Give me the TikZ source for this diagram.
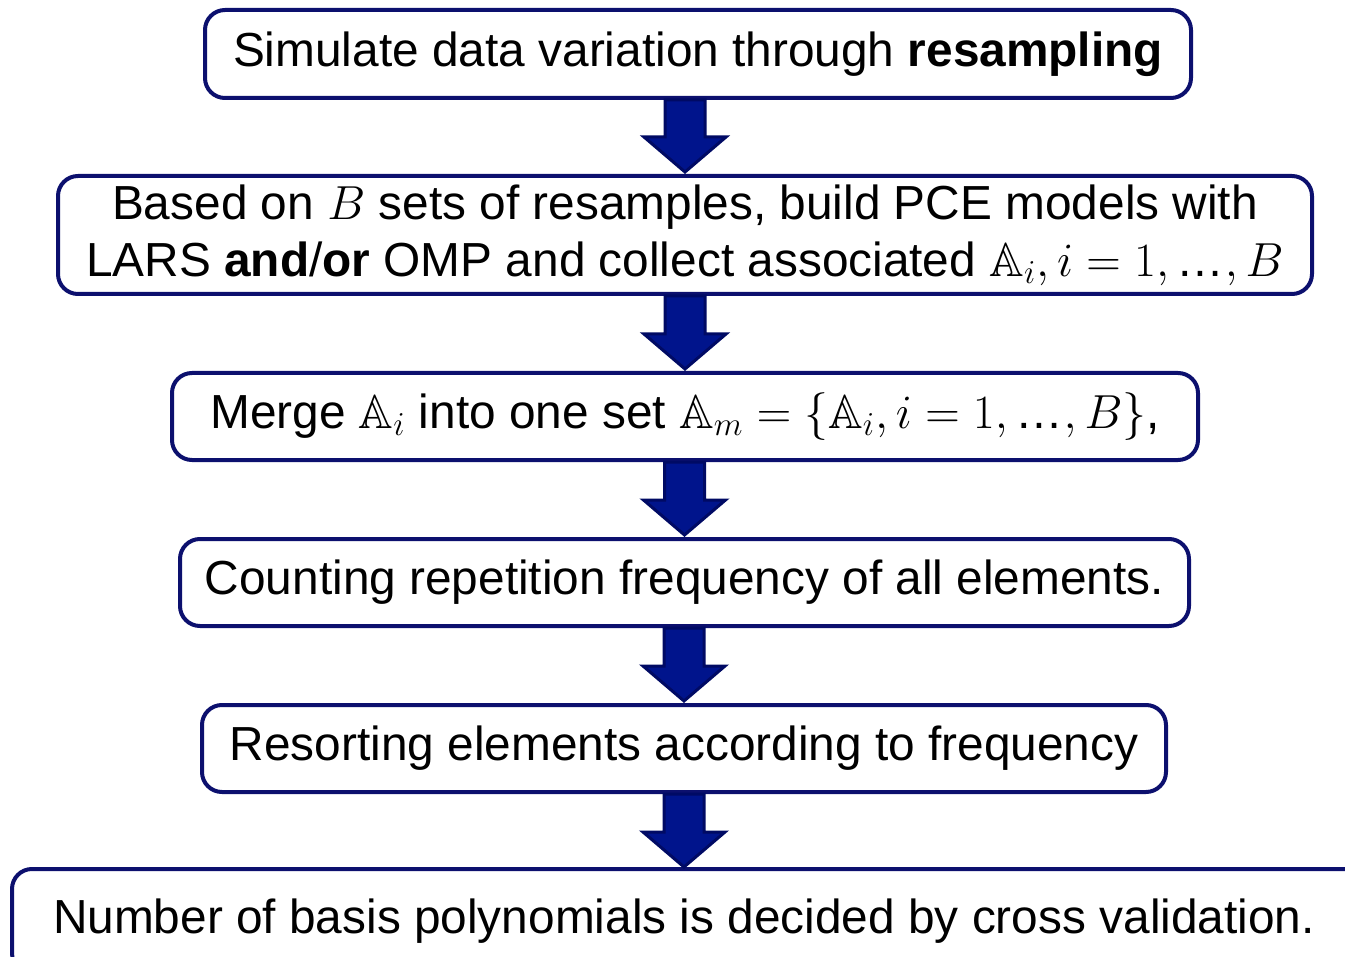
\documentclass[tikz,border=0pt]{standalone}
\usepackage{fix-cm}
\usepackage{amssymb}
\usepackage{fontspec}
\setmainfont{Liberation Sans}
\usetikzlibrary{calc}
\definecolor{boxblue}{RGB}{12,16,110}
\definecolor{arrowfill}{RGB}{0,20,140}
\definecolor{arrowline}{RGB}{0,10,100}
\tikzset{
  boxline/.style={draw=boxblue,line width=2pt,rounded corners=10pt},
  stepbox/.style={boxline,fill=white,
    align=center,inner sep=0pt,font=\fontsize{23.9}{28.5}\selectfont},
  blockarrow/.style={fill=arrowfill,draw=arrowline,line width=1.5pt}
}
% block arrow from the bottom of #1 to the top of #2
\newcommand{\downblock}[2]{%
  \draw[blockarrow] ($(#1.south -| #2.north)+(-20,0)$) -- ($(#2.north)+(-20,-37)$)
    -- ($(#2.north)+(-41,-37)$) -- ($(#2.north)+(0,-2)$) -- ($(#2.north)+(41,-37)$)
    -- ($(#2.north)+(20,-37)$) -- ($(#1.south -| #2.north)+(20,0)$) -- cycle;}
\newcommand{\dotsto}{\mbox{\ldots}}
\begin{document}
\begin{tikzpicture}[x=0.5pt,y=-0.5pt]
  \useasboundingbox (0,0) rectangle (1345,957);
  \clip (0,0) rectangle (1345,957);
  \node[stepbox,minimum width=493pt,minimum height=44pt] (simulate) at (698,54)
    {Simulate data variation through \textbf{resampling}};
  \node[stepbox,minimum width=627pt,minimum height=59pt] (buildpce) at (685,235)
    {Based on $B$ sets of resamples, build PCE models with\\
     LARS \textbf{and}/\textbf{or} OMP and collect associated $\mathbb{A}_i, i = 1, \dotsto, B$};
  \node[stepbox,minimum width=513pt,minimum height=43.5pt] (merge) at (685,416.5)
    {Merge $\mathbb{A}_i$ into one set $\mathbb{A}_m = \{\mathbb{A}_i, i = 1, \dotsto, B\}$,};
  \node[stepbox,minimum width=504.5pt,minimum height=43.5pt] (count) at (684.5,582.5)
    {Counting repetition frequency of all elements.};
  \node[stepbox,minimum width=482pt,minimum height=43.5pt] (resort) at (684,748.5)
    {Resorting elements according to frequency};
  % last box runs off the right and bottom edges
  \node[stepbox,draw=none,fill=none,minimum width=670pt,minimum height=50pt] (crossval) at (684,921)
    {Number of basis polynomials is decided by cross validation.};
  \draw[boxline] (crossval.north west) rectangle ($(crossval.south east)+(20,0)$);
  \downblock{simulate}{buildpce}
  \downblock{buildpce}{merge}
  \downblock{merge}{count}
  \downblock{count}{resort}
  \downblock{resort}{crossval}
\end{tikzpicture}
\end{document}
